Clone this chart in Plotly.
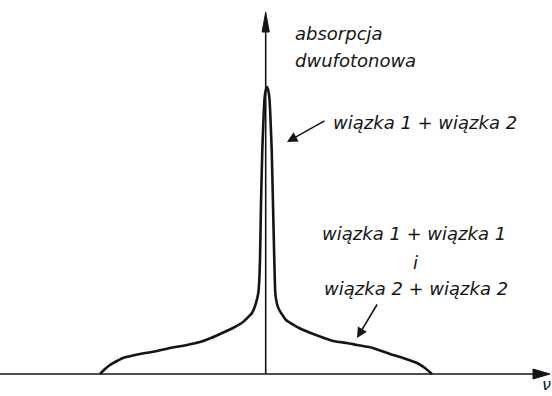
import plotly.graph_objects as go

# Absorption profile: frequency offset from line centre and signal height (arbitrary units)
nu_left = [-167, -162, -157, -150, -144, -127, -110, -97, -80, -67, -56, -47, -34, -24,
           -15, -11, -8.7, -7.7, -7, -6, -4.7, -3.7, -2.6, -1.2, 0]
s_left = [0, 5, 9, 13, 16, 20, 23, 26, 29, 32, 36, 40, 46, 52,
          61, 71, 81, 94, 114, 170, 224, 250, 274, 284, 287]
nu_right = [1.2, 2.6, 3.7, 4.7, 6, 7.3, 8.3, 10, 12.3, 19, 32, 49, 66, 80, 90,
            106, 123, 136, 150, 158, 165]
s_right = [284, 274, 250, 224, 170, 114, 81, 70, 64, 54, 46, 39, 33, 31, 29,
           26, 20, 16, 11, 6, 0]

nu = nu_left + nu_right
signal = s_left + s_right

# Axis extents
X_MIN, X_TIP = -267, 283
Y_TIP = 362
AXIS_X = -1.3
INK = "#151515"

fig = go.Figure()

# horizontal and vertical axes
fig.add_trace(go.Scatter(x=[X_MIN, X_TIP - 8], y=[0, 0], mode="lines",
                         line=dict(color=INK, width=1.6), hoverinfo="skip"))
fig.add_trace(go.Scatter(x=[AXIS_X, AXIS_X], y=[0, Y_TIP - 10], mode="lines",
                         line=dict(color=INK, width=1.6), hoverinfo="skip"))

# absorption curve
fig.add_trace(go.Scatter(x=nu, y=signal, mode="lines",
                         line=dict(color=INK, width=2.6, shape="spline", smoothing=0.4),
                         hoverinfo="skip"))

# arrowheads of the axes
ah_len_x, ah_half_x = 17, 5
ah_len_y, ah_half_y = 20, 3.6
fig.add_shape(type="path", xref="x", yref="y",
              path=f"M{X_TIP},0 L{X_TIP - ah_len_x},{ah_half_x} L{X_TIP - ah_len_x},{-ah_half_x} Z",
              fillcolor=INK, line=dict(color=INK, width=1))
fig.add_shape(type="path", xref="x", yref="y",
              path=(f"M{AXIS_X},{Y_TIP} L{AXIS_X - ah_half_y},{Y_TIP - ah_len_y} "
                    f"L{AXIS_X + ah_half_y},{Y_TIP - ah_len_y} Z"),
              fillcolor=INK, line=dict(color=INK, width=1))

font = dict(family="DejaVu Sans", size=18, color=INK, style="italic")

labels = [
    dict(x=26, y=341, text="absorpcja", xanchor="left"),
    dict(x=26, y=314, text="dwufotonowa", xanchor="left"),
    dict(x=64, y=252, text="wiązka 1 + wiązka 2", xanchor="left"),
    dict(x=147, y=141, text="wiązka 1 + wiązka 1", xanchor="center"),
    dict(x=148, y=112, text="i", xanchor="center"),
    dict(x=149, y=86, text="wiązka 2 + wiązka 2", xanchor="center"),
]
for lb in labels:
    fig.add_annotation(x=lb["x"], y=lb["y"], text=lb["text"], xref="x", yref="y",
                       xanchor=lb["xanchor"], yanchor="middle", showarrow=False, font=font)

# frequency symbol below the axis end
fig.add_annotation(x=279, y=-22, text="ν", xref="x", yref="y", xanchor="center",
                   yanchor="bottom", showarrow=False,
                   font=dict(family="DejaVu Sans", size=16, color=INK, style="italic"))

# pointer arrows from labels to the curve
pointers = [((59, 254), (20, 232)), ((111, 71), (90, 36))]
for (tx, ty), (hx, hy) in pointers:
    fig.add_annotation(x=hx, y=hy, ax=tx, ay=ty, xref="x", yref="y", axref="x", ayref="y",
                       text="", showarrow=True, arrowhead=2, arrowsize=1.3,
                       arrowwidth=1.6, arrowcolor=INK)

fig.update_layout(
    width=552, height=396,
    margin=dict(l=0, r=0, t=0, b=0),
    paper_bgcolor="white", plot_bgcolor="white",
    showlegend=False,
    xaxis=dict(range=[-267, 285], visible=False, fixedrange=True),
    yaxis=dict(range=[-22, 374], visible=False, fixedrange=True),
)

fig.write_html("out.html")
